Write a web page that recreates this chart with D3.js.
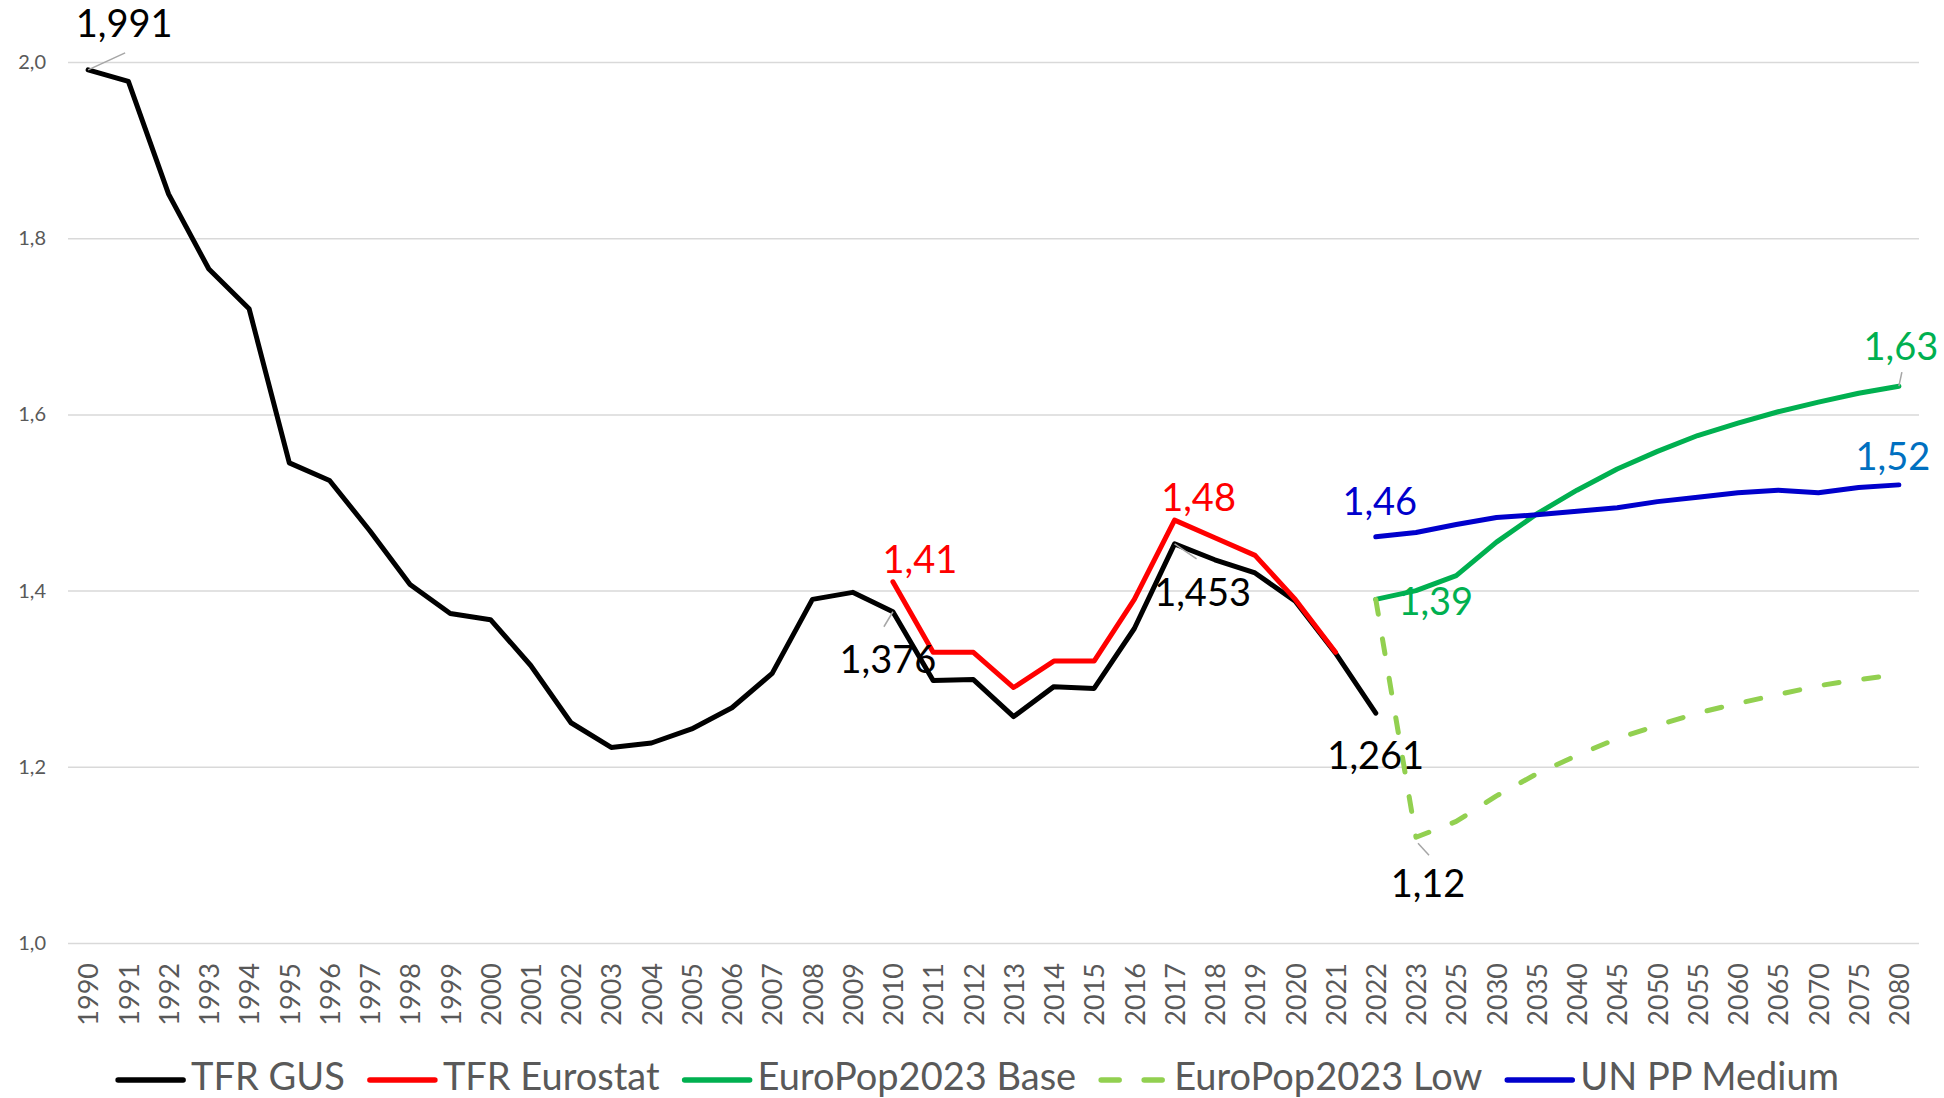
<!DOCTYPE html>
<html>
<head>
<meta charset="utf-8">
<script src="https://cdnjs.cloudflare.com/ajax/libs/d3/7.8.5/d3.min.js"></script>
<style>
  body { margin: 0; background: #fff; }
  svg text { font-family: Lato, "Open Sans", sans-serif; }
</style>
</head>
<body>
<svg id="chart" width="1944" height="1098"></svg>
<script>
// categories on the x axis (yearly until 2023, then every 5 years)
var years = ['1990', '1991', '1992', '1993', '1994', '1995', '1996', '1997', '1998', '1999',
             '2000', '2001', '2002', '2003', '2004', '2005', '2006', '2007', '2008', '2009',
             '2010', '2011', '2012', '2013', '2014', '2015', '2016', '2017', '2018', '2019',
             '2020', '2021', '2022', '2023', '2025', '2030', '2035', '2040', '2045', '2050',
             '2055', '2060', '2065', '2070', '2075', '2080'];

// TFR GUS 1990-2022
var gusYears = years.slice(0, 33);
var tfrGus = [1.991, 1.978, 1.850, 1.765, 1.720, 1.545, 1.525, 1.468, 1.407, 1.374,
              1.367, 1.315, 1.250, 1.222, 1.227, 1.243, 1.267, 1.306, 1.390, 1.398,
              1.376, 1.298, 1.299, 1.257, 1.291, 1.289, 1.357, 1.453, 1.435, 1.420,
              1.388, 1.329, 1.261];

// TFR Eurostat 2010-2021
var eurostatYears = years.slice(20, 32);
var tfrEurostat = [1.41, 1.33, 1.33, 1.29, 1.32, 1.32, 1.39, 1.48, 1.46, 1.44, 1.39, 1.33];

// projections 2022-2080
var projYears = years.slice(32);
var europopBase = [1.39, 1.40, 1.417, 1.455, 1.487, 1.514, 1.538, 1.558, 1.576, 1.590, 1.603, 1.614, 1.624, 1.632];
var europopLow = [1.39, 1.12, 1.138, 1.167, 1.192, 1.213, 1.232, 1.247, 1.261, 1.272, 1.282, 1.292, 1.299, 1.305];
var unMedium = [1.461, 1.466, 1.475, 1.483, 1.486, 1.490, 1.494, 1.501, 1.506, 1.511, 1.514, 1.511, 1.517, 1.520];

var yTicks = [1.0, 1.2, 1.4, 1.6, 1.8, 2.0];

// series setup
var series = [
  { name: 'TFR GUS', cats: gusYears, values: tfrGus, color: '#000000', dash: null },
  { name: 'TFR Eurostat', cats: eurostatYears, values: tfrEurostat, color: '#FF0000', dash: null },
  { name: 'EuroPop2023 Base', cats: projYears, values: europopBase, color: '#00B050', dash: null },
  { name: 'EuroPop2023 Low', cats: projYears, values: europopLow, color: '#92D050', dash: '15,25' },
  { name: 'UN PP Medium', cats: projYears, values: unMedium, color: '#0000CC', dash: null }
];

// data labels: series index, category, decimals, colour, offset of label centre, leader line
var labels = [
  { s: 0, cat: '1990', dec: 3, color: '#000', dx: 36, dy: -47, leader: [0, 0, 37, -17] },
  { s: 0, cat: '2010', dec: 3, color: '#000', dx: -5, dy: 48, leader: [0, 0, -9, 15] },
  { s: 0, cat: '2017', dec: 3, color: '#000', dx: 28, dy: 48, leader: [0, 0, 22, 15] },
  { s: 0, cat: '2022', dec: 3, color: '#000', dx: 0, dy: 42 },
  { s: 1, cat: '2010', dec: 2, color: '#FF0000', dx: 27, dy: -22 },
  { s: 1, cat: '2017', dec: 2, color: '#FF0000', dx: 24, dy: -23 },
  { s: 2, cat: '2022', dec: 2, color: '#00B050', dx: 60, dy: 2 },
  { s: 2, cat: '2080', dec: 2, color: '#00B050', dx: 2, dy: -40, leader: [0, 0, 3, -14] },
  { s: 3, cat: '2023', dec: 2, color: '#000', dx: 12, dy: 46, leader: [2, 6, 13, 18] },
  { s: 4, cat: '2022', dec: 2, color: '#0000CC', dx: 4, dy: -36 },
  { s: 4, cat: '2080', dec: 2, color: '#0070C0', dx: -6, dy: -29 }
];

var plLocale = d3.formatLocale({ decimal: ',', thousands: ' ', grouping: [3], currency: ['', ' zł'] });

var svg = d3.select('#chart');
var margin = { left: 68, right: 25, top: 62, bottom: 155 };
var width = 1944, height = 1098;

var x = d3.scalePoint()
    .domain(years)
    .range([margin.left, width - margin.right])
    .padding(0.5);

var y = d3.scaleLinear()
    .domain([1.0, 2.0])
    .range([height - margin.bottom, margin.top]);

// gridlines + y labels
var yAxis = svg.append('g')
    .attr('transform', 'translate(' + margin.left + ',0)')
    .call(d3.axisLeft(y)
          .tickValues(yTicks)
          .tickSize(-(width - margin.left - margin.right))
          .tickPadding(22)
          .tickFormat(plLocale.format('.1f')));
yAxis.select('.domain').remove();
yAxis.selectAll('line').attr('stroke', '#D9D9D9').attr('stroke-width', 1.5);
yAxis.selectAll('text')
    .attr('fill', '#595959')
    .style('font-size', '20px');

// x labels, rotated
var xAxis = svg.append('g')
    .attr('transform', 'translate(0,' + y(1.0) + ')')
    .call(d3.axisBottom(x).tickSize(0));
xAxis.select('.domain').remove();
xAxis.selectAll('text')
    .attr('fill', '#595959')
    .style('font-size', '27px')
    .attr('transform', 'rotate(-90)')
    .attr('text-anchor', 'end')
    .attr('x', -20)
    .attr('y', 0)
    .attr('dy', '0.36em');

// lines
var line = d3.line()
    .x(function(d) { return x(d[0]); })
    .y(function(d) { return y(d[1]); });

series.forEach(function(s) {
  var pts = s.cats.map(function(c, i) { return [c, s.values[i]]; });
  svg.append('path')
      .datum(pts)
      .attr('d', line)
      .attr('fill', 'none')
      .attr('stroke', s.color)
      .attr('stroke-width', 5)
      .attr('stroke-linejoin', 'round')
      .attr('stroke-linecap', 'round')
      .attr('stroke-dasharray', s.dash);
});

// data labels
labels.forEach(function(l) {
  var s = series[l.s];
  var v = s.values[s.cats.indexOf(l.cat)];
  var px = x(l.cat), py = y(v);
  if (l.leader) {
    svg.append('line')
        .attr('x1', px + l.leader[0]).attr('y1', py + l.leader[1])
        .attr('x2', px + l.leader[2]).attr('y2', py + l.leader[3])
        .attr('stroke', '#A6A6A6')
        .attr('stroke-width', 1.5);
  }
  svg.append('text')
      .attr('x', px + l.dx)
      .attr('y', py + l.dy)
      .attr('dy', '0.36em')
      .attr('text-anchor', 'middle')
      .attr('fill', l.color)
      .style('font-size', '38px')
      .text(plLocale.format('.' + l.dec + 'f')(v));
});

// legend
var legend = svg.append('g');
var cursor = 0;
series.forEach(function(s) {
  var item = legend.append('g').attr('transform', 'translate(' + cursor + ',0)');
  item.append('line')
      .attr('x1', 3).attr('x2', 68)
      .attr('y1', 0).attr('y2', 0)
      .attr('stroke', s.color)
      .attr('stroke-width', 5.5)
      .attr('stroke-linecap', 'round')
      .attr('stroke-dasharray', s.dash ? '18,25' : null);
  var t = item.append('text')
      .attr('x', 76)
      .attr('y', 10)
      .attr('fill', '#595959')
      .style('font-size', '38px')
      .text(s.name);
  cursor += 76 + t.node().getComputedTextLength() + 22;
});
cursor -= 22;
legend.attr('transform', 'translate(' + (977 - cursor / 2) + ',1080)');
</script>
</body>
</html>
